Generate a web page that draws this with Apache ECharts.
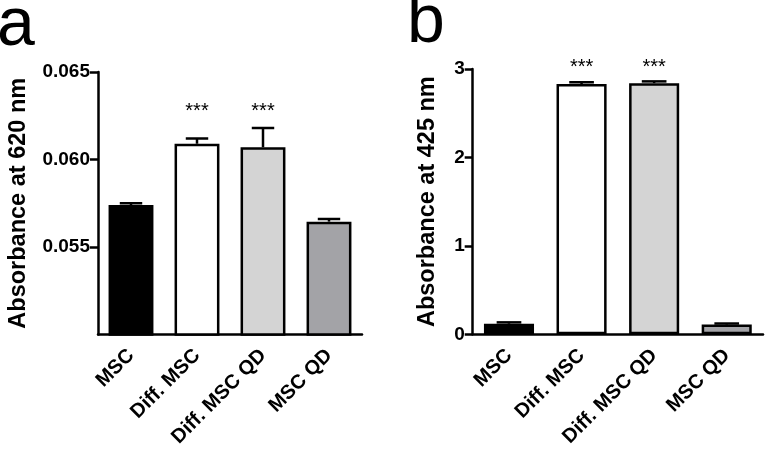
<!DOCTYPE html>
<html><head><meta charset="utf-8">
<script src="https://cdn.jsdelivr.net/npm/echarts@6/dist/echarts.min.js"></script>
<style>html,body{margin:0;padding:0;background:#fff}#c{width:766px;height:450px}</style>
</head><body><div id="c"></div>
<script>
const categories = ['MSC', 'Diff. MSC', 'Diff. MSC QD', 'MSC QD'];
const absorb620 = [0.0574, 0.0609, 0.0607, 0.05645];
const absorb620Err = [0.0001, 0.0003, 0.0011, 0.00015];
const absorb425 = [0.12, 2.83, 2.84, 0.11];
const absorb425Err = [0.015, 0.02, 0.02, 0.012];
const significance = ['', '***', '***', ''];
const sig620Level = 0.06277;
const sig425Level = 3.02;
const ticks620 = [0.055, 0.060, 0.065];
const ticks425 = [0, 1, 2, 3];
const panelLabels = ['a', 'b'];
const yTitles = ['Absorbance at 620 nm', 'Absorbance at 425 nm'];

const barColors = ['#000000', '#ffffff', '#d4d4d4', '#a3a3a7'];
const FONT = '"Liberation Sans", Arial, Helvetica, sans-serif';
const LW = 2.5;

const chart = echarts.init(document.getElementById('c'), null, {renderer: 'canvas'});

function barData(vals) {
  return vals.map((v, i) => ({value: v, itemStyle: {color: barColors[i]}}));
}
function errSeries(idx, vals, errs) {
  return {
    type: 'custom', xAxisIndex: idx, yAxisIndex: idx, z: 3,
    data: vals.map((v, i) => [i, v, errs[i]]),
    renderItem: function (params, api) {
      const i = api.value(0), v = api.value(1), e = api.value(2);
      const base = api.coord([i, v]);
      const top = api.coord([i, v + e]);
      const cap = api.size([1, 0])[0] * 0.68 * 0.5;
      return {type: 'group', children: [
        {type: 'line', shape: {x1: base[0], y1: base[1], x2: top[0], y2: top[1]}, style: {stroke: '#000', lineWidth: LW}},
        {type: 'line', shape: {x1: top[0] - cap / 2, y1: top[1], x2: top[0] + cap / 2, y2: top[1]}, style: {stroke: '#000', lineWidth: LW}}
      ]};
    }
  };
}
function sigSeries(idx, level) {
  return {
    type: 'custom', xAxisIndex: idx, yAxisIndex: idx, clip: false, z: 4,
    data: significance.map((s, i) => [i, level, s]).filter(d => d[2]),
    renderItem: function (params, api) {
      const i = api.value(0);
      const p = api.coord([i, api.value(1)]);
      return {type: 'text', x: p[0], y: p[1], style: {text: significance[i], fill: '#000', font: '20px ' + FONT, align: 'center', verticalAlign: 'middle'}};
    }
  };
}
function xAxis(idx) {
  return {
    type: 'category', gridIndex: idx, data: categories,
    axisLine: {lineStyle: {color: '#000', width: LW}},
    axisTick: {alignWithLabel: true, length: 8, lineStyle: {color: '#000', width: LW}},
    axisLabel: {rotate: 45, interval: 0, margin: 18, color: '#000', fontWeight: 'bold', fontSize: 20, fontFamily: FONT},
    splitLine: {show: false}
  };
}
function yAxis(idx, min, max, interval, ticks, fmt, gap) {
  return {
    type: 'value', gridIndex: idx, min: min, max: max, interval: interval,
    name: yTitles[idx], nameLocation: 'middle', nameRotate: 90, nameGap: gap,
    nameTextStyle: {color: '#000', fontWeight: 'bold', fontSize: 23.5, fontFamily: FONT},
    axisLine: {show: true, lineStyle: {color: '#000', width: LW}},
    axisTick: {show: true, length: 8, customValues: ticks, lineStyle: {color: '#000', width: LW}},
    axisLabel: {customValues: ticks, formatter: fmt, margin: 8, color: '#000', fontWeight: 'bold', fontSize: 19, fontFamily: FONT},
    splitLine: {show: false}
  };
}

chart.setOption({
  animation: false,
  backgroundColor: '#fff',
  title: [
    {text: panelLabels[0], left: -3, top: -8, padding: 0, textStyle: {fontSize: 68, fontWeight: 'normal', color: '#000', fontFamily: FONT}},
    {text: panelLabels[1], left: 407, top: -11, padding: 0, textStyle: {fontSize: 68, fontWeight: 'normal', color: '#000', fontFamily: FONT}}
  ],
  grid: [
    {left: 98, right: 404, top: 72, bottom: 115.5},
    {left: 472.7, right: 3, top: 69, bottom: 115.7}
  ],
  xAxis: [xAxis(0), xAxis(1)],
  yAxis: [
    yAxis(0, 0.050, 0.065, 0.005, ticks620, v => v.toFixed(3), 67),
    yAxis(1, 0, 3, 1, ticks425, v => String(Math.round(v)), 33)
  ],
  series: [
    {type: 'bar', xAxisIndex: 0, yAxisIndex: 0, data: barData(absorb620), barCategoryGap: '32%',
     itemStyle: {borderColor: '#000', borderWidth: LW}, z: 2},
    {type: 'bar', xAxisIndex: 1, yAxisIndex: 1, data: barData(absorb425), barCategoryGap: '31%',
     itemStyle: {borderColor: '#000', borderWidth: LW}, z: 2},
    errSeries(0, absorb620, absorb620Err),
    errSeries(1, absorb425, absorb425Err),
    sigSeries(0, sig620Level),
    sigSeries(1, sig425Level)
  ]
});
</script></body></html>
